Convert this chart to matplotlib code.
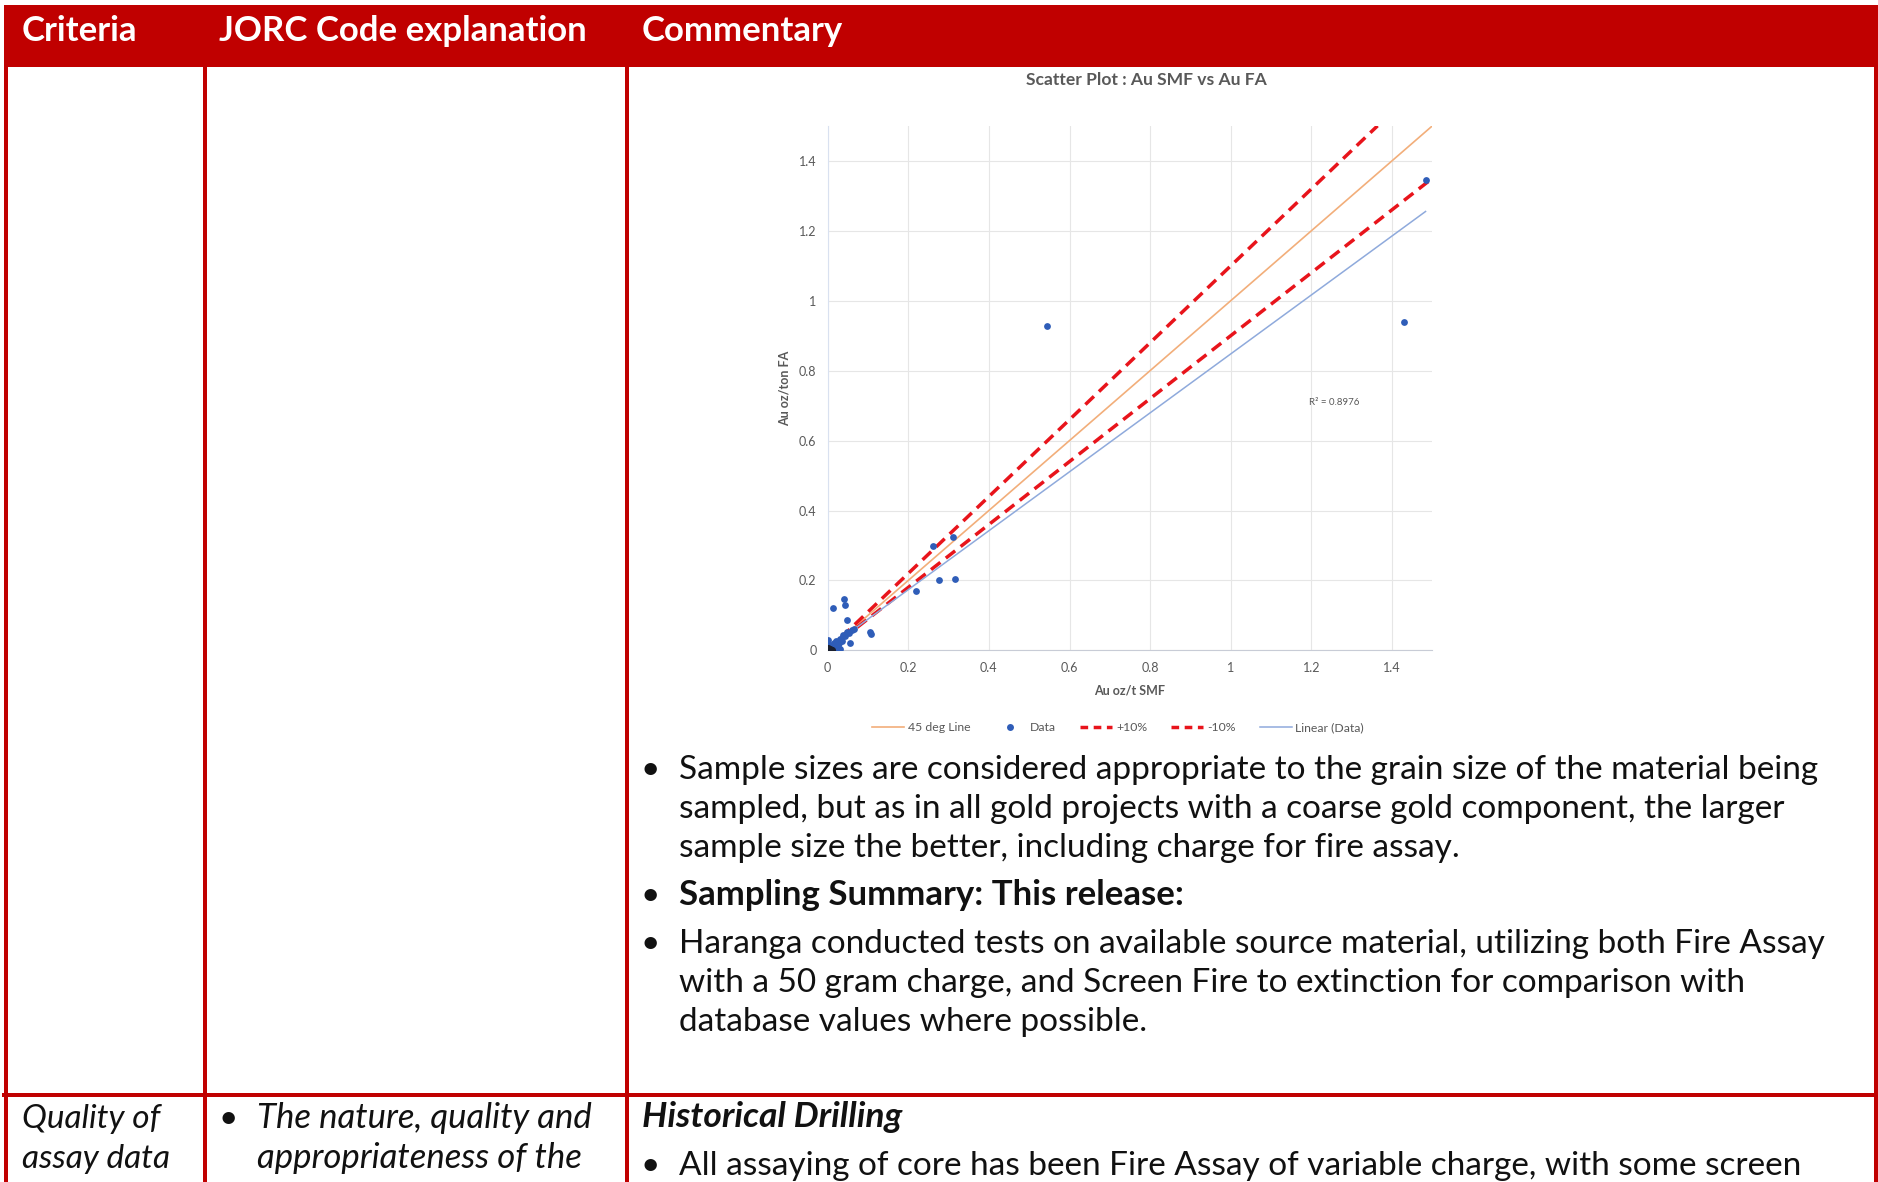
import matplotlib.pyplot as plt
from matplotlib.patches import Rectangle
from matplotlib.lines import Line2D

# data
smf = [0.544, 1.430, 1.483, 0.261, 0.310, 0.276, 0.317, 0.220,
       0.014, 0.040, 0.043, 0.049, 0.106, 0.107, 0.055, 0.066, 0.047, 0.052,
       0.039, 0.031, 0.035, 0.022, 0.002, 0.010, 0.018, 0.026, 0.006, 0.028,
       0.015, 0.030, 0.012, 0.004, 0.020, 0.060, 0.044]
fa = [0.928, 0.938, 1.346, 0.299, 0.323, 0.202, 0.205, 0.169,
      0.121, 0.147, 0.130, 0.088, 0.052, 0.046, 0.021, 0.062, 0.054, 0.050,
      0.045, 0.032, 0.026, 0.026, 0.031, 0.016, 0.011, 0.016, 0.007, 0.022,
      0.020, 0.005, 0.004, 0.015, 0.000, 0.058, 0.040]
origin_x = [0.000, 0.004, 0.008, 0.002, 0.006, 0.010]
origin_y = [0.000, 0.002, 0.001, 0.006, 0.004, 0.000]

guide_x = [0, 1.5]
line45_y = [0, 1.5]
plus_x = [0, 1.364]
plus_y = [0, 1.5]
minus_y = [0, 1.35]
trend_x = [0, 1.483]
trend_y = [0.005, 1.255]
r2_text = 'R² = 0.8976'

ticks = [0, 0.2, 0.4, 0.6, 0.8, 1.0, 1.2, 1.4]
tick_labels = ['0', '0.2', '0.4', '0.6', '0.8', '1', '1.2', '1.4']

headers = ['Criteria', 'JORC Code explanation', 'Commentary']
bullets = [
    ['Sample sizes are considered appropriate to the grain size of the material being',
     'sampled, but as in all gold projects with a coarse gold component, the larger',
     'sample size the better, including charge for fire assay.'],
    ['Sampling Summary: This release:'],
    ['Haranga conducted tests on available source material, utilizing both Fire Assay',
     'with a 50 gram charge, and Screen Fire to extinction for comparison with',
     'database values where possible.'],
]

RED = '#C00000'
W, H = 1878, 1182
fig = plt.figure(figsize=(W / 100, H / 100), dpi=100)

# table drawn in pixel coords
bg = fig.add_axes([0, 0, 1, 1])
bg.set_xlim(0, W)
bg.set_ylim(H, 0)
bg.axis('off')
bg.add_patch(Rectangle((4, 5), W - 4, 62, color=RED, lw=0))
lw_px = 4 * 72 / 100
for x in [6, 204.5, 626.5, 1876]:
    bg.plot([x, x], [60, H], color=RED, lw=lw_px, solid_capstyle='butt')
bg.plot([4, W], [1095, 1095], color=RED, lw=lw_px)

hx = [22, 219, 642]
for x, t in zip(hx, headers):
    bg.text(x, 41, t, color='white', fontsize=25, fontweight='bold',
            family='Lato', va='baseline')

body = dict(fontsize=24, family='Lato', va='baseline', color='#111111')
ys = [[779, 818, 857], [905], [953, 992, 1031]]
for i, (lines, yy) in enumerate(zip(bullets, ys)):
    bg.text(640, yy[0], '•', **body)
    for t, y in zip(lines, yy):
        if i == 1:
            bg.text(679, y, t, **{**body, 'fontsize': 25, 'fontweight': 'bold'})
        else:
            bg.text(679, y, t, **body)

bg.text(22, 1128, 'Quality of', style='italic', **body)
bg.text(22, 1168, 'assay data', style='italic', **body)
bg.text(218, 1128, '•', **body)
bg.text(257, 1128, 'The nature, quality and', style='italic', **{**body, 'fontsize': 25})
bg.text(257, 1168, 'appropriateness of the', style='italic', **{**body, 'fontsize': 25})
bg.text(642, 1127, 'Historical Drilling', style='italic', fontweight='bold',
        **{**body, 'fontsize': 25.5})
bg.text(640, 1175, '•', **body)
bg.text(679, 1175, 'All assaying of core has been Fire Assay of variable charge, with some screen', **body)

# scatter chart
ax = fig.add_axes([827.6 / W, 1 - 650.4 / H, 604.8 / W, 524.6 / H])
ax.plot(guide_x, line45_y, color='#F2AE7A', lw=1.2, label='45 deg Line', zorder=3)
ax.scatter(smf, fa, s=24, color='#2F5DB8', label='Data', zorder=4, linewidths=0)
ax.scatter(origin_x, origin_y, s=26, color='#1A1F2E', zorder=5, linewidths=0)
ax.plot(plus_x, plus_y, color='#E8141B', lw=2.5, dashes=(3.4, 2.0), label='+10%', zorder=3)
ax.plot(guide_x, minus_y, color='#E8141B', lw=2.5, dashes=(3.4, 2.0), label='-10%', zorder=3)
ax.plot(trend_x, trend_y, color='#8FAADC', lw=1.1, label='Linear (Data)', zorder=3)
ax.text(1.195, 0.71, r2_text, fontsize=7, color='#595959', family='Lato', va='center')

ax.set_xlim(0, 1.5)
ax.set_ylim(0, 1.5)
ax.set_xticks(ticks)
ax.set_xticklabels(tick_labels)
ax.set_yticks(ticks)
ax.set_yticklabels(tick_labels)
ax.tick_params(length=0, labelsize=9, labelcolor='#595959', pad=8)
for lab in ax.get_xticklabels() + ax.get_yticklabels():
    lab.set_family('Lato')
ax.grid(color='#E6E6E6', lw=0.8)
ax.set_axisbelow(True)
for s in ['top', 'right']:
    ax.spines[s].set_visible(False)
ax.spines['left'].set_color('#D9E1F0')
ax.spines['bottom'].set_color('#C8CCD6')
ax.set_xlabel('Au oz/t SMF', fontsize=9, fontweight='bold', color='#595959',
              family='Lato', labelpad=8)
ax.set_ylabel('Au oz/ton FA', fontsize=9, fontweight='bold', color='#595959',
              family='Lato', labelpad=6)
fig.text(1146 / W, 1 - 80 / H, 'Scatter Plot : Au SMF vs Au FA', fontsize=12.6,
         fontweight='bold', color='#595959', family='Lato', ha='center', va='center')

handles = [Line2D([], [], color='#F2AE7A', lw=1.2),
           Line2D([], [], ls='none', marker='o', ms=5, color='#2F5DB8', mew=0),
           Line2D([], [], color='#E8141B', lw=2.5, dashes=(2.2, 1.6)),
           Line2D([], [], color='#E8141B', lw=2.5, dashes=(2.2, 1.6)),
           Line2D([], [], color='#8FAADC', lw=1.1)]
leg = fig.legend(handles, ['45 deg Line', 'Data', '+10%', '-10%', 'Linear (Data)'],
                 loc='center', bbox_to_anchor=(1118 / W, 1 - 727.7 / H), ncol=5,
                 frameon=False, prop={'family': 'Lato', 'size': 8.8},
                 handlelength=2.6, handletextpad=0.3, columnspacing=2.0)
for t in leg.get_texts():
    t.set_color('#595959')

fig.savefig('out.png', dpi=100)
